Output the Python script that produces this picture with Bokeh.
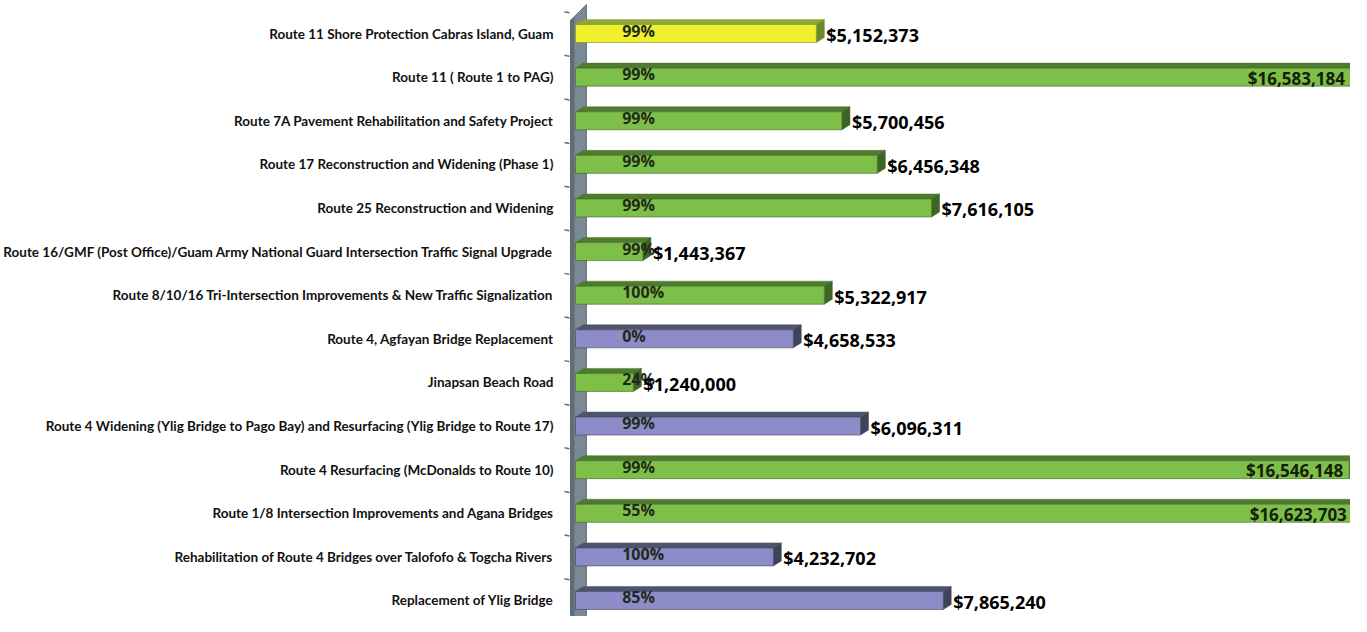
from bokeh.plotting import figure
from bokeh.models import Range1d, FixedTicker
from bokeh.core.properties import value
from bokeh.embed import file_html
from bokeh.resources import INLINE

categories = [
    "Route 11 Shore Protection Cabras Island, Guam",
    "Route 11 ( Route 1 to PAG)",
    "Route 7A Pavement Rehabilitation and Safety Project",
    "Route 17 Reconstruction and Widening (Phase 1)",
    "Route 25 Reconstruction and Widening",
    "Route 16/GMF (Post Office)/Guam Army National Guard Intersection Traffic Signal Upgrade",
    "Route 8/10/16 Tri-Intersection Improvements & New Traffic Signalization",
    "Route 4, Agfayan Bridge Replacement",
    "Jinapsan Beach Road",
    "Route 4 Widening (Ylig Bridge to Pago Bay) and Resurfacing (Ylig Bridge to Route 17)",
    "Route 4 Resurfacing (McDonalds to Route 10)",
    "Route 1/8 Intersection Improvements and Agana Bridges",
    "Rehabilitation of Route 4 Bridges over Talofofo & Togcha Rivers",
    "Replacement of Ylig Bridge",
]
amounts = [5152373, 16583184, 5700456, 6456348, 7616105, 1443367, 5322917,
           4658533, 1240000, 6096311, 16546148, 16623703, 4232702, 7865240]
percents = ["99%", "99%", "99%", "99%", "99%", "99%", "100%",
            "0%", "24%", "99%", "99%", "55%", "100%", "85%"]
groups = ["yellow", "green", "green", "green", "green", "green", "green",
          "purple", "green", "purple", "green", "green", "purple", "purple"]

PALETTE = {
    "green": ("#7dbf48", "#4f7b2f", "#3e6426"),
    "yellow": ("#f0ef2c", "#8fa63a", "#6b8a2a"),
    "purple": ("#8e8cc8", "#4d546b", "#3d4459"),
}

W, H = 1350, 616
LEFT = 559
XPX = 1.0 / 47e-6          # dollars per pixel
YPX = 1.0 / 43.6           # rows per pixel
x0 = -12 * XPX
x1 = x0 + (W - LEFT) * XPX
y_top = 13 + 33 * YPX
y_bot = -(H - 600) * YPX

p = figure(width=W, height=H, output_backend="svg", toolbar_location=None,
           x_range=Range1d(x0, x1), y_range=Range1d(y_bot, y_top),
           x_axis_location=None, min_border_left=LEFT, min_border_right=0,
           min_border_top=0, min_border_bottom=0)
p.outline_line_color = None
p.xgrid.visible = False
p.ygrid.visible = False
p.background_fill_color = "white"

n = len(categories)
ys = [n - 1 - i for i in range(n)]

# y axis labels
p.yaxis.ticker = FixedTicker(ticks=ys)
p.yaxis.major_label_overrides = {y: c for y, c in zip(ys, categories)}
p.yaxis.axis_line_color = None
p.yaxis.major_tick_line_color = None
p.yaxis.minor_tick_line_color = None
p.yaxis.major_label_standoff = 4
p.yaxis.major_label_text_font = "Lato"
p.yaxis.major_label_text_font_style = "bold"
p.yaxis.major_label_text_font_size = "13.5px"
p.yaxis.major_label_text_color = "#111111"

# wall
wx0, wx1 = -5 * XPX, 11 * XPX
p.patch([wx0, wx0, wx1, wx1], [y_bot - 1, 13 + 13 * YPX, 13 + 29 * YPX, y_bot - 1],
        fill_color="#7a8a94", line_color="#5f6e78", line_width=1)
p.patch([wx0, wx0, -1 * XPX, -1 * XPX], [y_bot - 1, 13 + 13 * YPX, 13 + 16 * YPX, y_bot - 1],
        fill_color="#5e6d77", line_color=None)
bounds = [n - 1 - i + 0.5 for i in range(n + 1)]
p.segment(x0=[-11 * XPX] * len(bounds), y0=bounds, x1=[-6 * XPX] * len(bounds),
          y1=[b - 1 * YPX for b in bounds], line_color="#5f6e78", line_width=1.5)

# 3D bars
hh = 9 * YPX
dx = 8 * XPX
dy = 5 * YPX
for v, y, g in zip(amounts, ys, groups):
    front, top, side = PALETTE[g]
    p.patch([dx, v + dx, v, 0], [y + hh + dy, y + hh + dy, y + hh, y + hh],
            fill_color=top, line_color=top, line_width=0.5)
    p.patch([v, v + dx, v + dx, v], [y - hh, y - hh + dy, y + hh + dy, y + hh],
            fill_color=side, line_color=side, line_width=0.5)
    p.patch([0, v, v, 0], [y - hh, y - hh, y + hh, y + hh],
            fill_color=front, line_color=side, line_width=0.6)

# percent labels
p.text(x=[47 * XPX] * n, y=[y + 3 * YPX for y in ys], text=percents,
       text_font=value("Open Sans"), text_font_style="bold", text_font_size="16px",
       text_color="#1f2a1a", text_baseline="middle", text_align="left")

# value labels
labels = ["${:,}".format(v) for v in amounts]
out_x, out_y, out_t, in_x, in_y, in_t = [], [], [], [], [], []
for v, y, t in zip(amounts, ys, labels):
    if v > 16e6:
        in_x.append(v - 6 * XPX); in_y.append(y - 1 * YPX); in_t.append(t)
    else:
        out_x.append(v + dx + 2 * XPX); out_y.append(y - 1.5 * YPX); out_t.append(t)
p.text(x=out_x, y=out_y, text=out_t, text_font=value("Open Sans"), text_font_style="bold",
       text_font_size="18px", text_color="#000000", text_baseline="middle", text_align="left")
p.text(x=in_x, y=in_y, text=in_t, text_font=value("Open Sans"), text_font_style="bold",
       text_font_size="17px", text_color="#14200c", text_baseline="middle", text_align="right")

open("out.html", "w").write(file_html(p, INLINE))
